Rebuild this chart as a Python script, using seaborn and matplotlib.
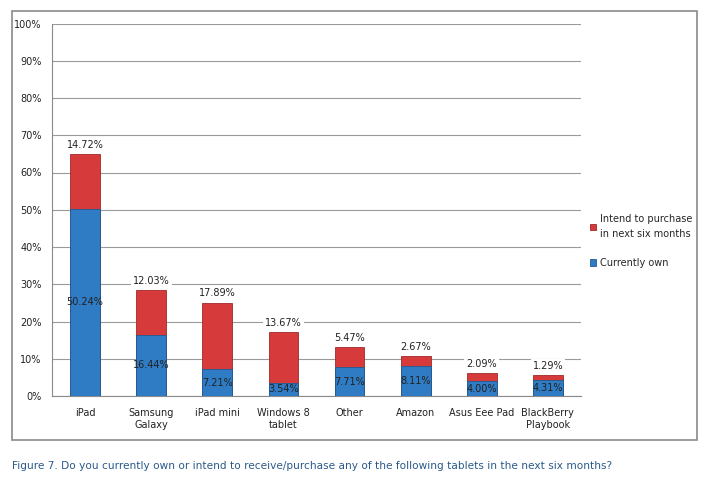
import numpy as np
import pandas as pd
import matplotlib
matplotlib.use("Agg")
import matplotlib.pyplot as plt
import seaborn as sns
from matplotlib.patches import Patch, Rectangle

# ==========================================================
# DATA
# ==========================================================

tablets = ["iPad", "Samsung\nGalaxy", "iPad mini", "Windows 8\ntablet",
           "Other", "Amazon", "Asus Eee Pad", "BlackBerry\nPlaybook"]
currently_own = [50.24, 16.44, 7.21, 3.54, 7.71, 8.11, 4.00, 4.31]
intend_purchase = [14.72, 12.03, 17.89, 13.67, 5.47, 2.67, 2.09, 1.29]

caption = ("Figure 7. Do you currently own or intend to receive/purchase any "
           "of the following tablets in the next six months?")

df = pd.DataFrame({"tablet": tablets, "own": currently_own, "intend": intend_purchase})
df["total"] = df["own"] + df["intend"]

BLUE = "#2F7BC4"
RED = "#D63A3A"

sns.set_style("white")
plt.rcParams["font.family"] = ["DejaVu Sans"]

# ==========================================================
# PLOT
# ==========================================================

fig = plt.figure(figsize=(7.15, 4.78), dpi=100)
ax = fig.add_axes([52 / 715, 1 - 396 / 478, (581 - 52) / 715, (396 - 23.5) / 478])

sns.barplot(data=df, x="tablet", y="total", color=RED, width=0.45,
            edgecolor="#9E2A2A", linewidth=0.6, saturation=1, ax=ax, zorder=3)
sns.barplot(data=df, x="tablet", y="own", color=BLUE, width=0.45,
            edgecolor="#1F5A93", linewidth=0.6, saturation=1, ax=ax, zorder=4)

for i, row in df.iterrows():
    ax.text(i, row["own"] / 2, f"{row['own']:.2f}%", ha="center", va="center",
            fontsize=7, color="#222222", zorder=6)
    ax.text(i, row["total"] + 2.5, f"{row['intend']:.2f}%", ha="center", va="center",
            fontsize=7, color="#222222", zorder=6,
            bbox=dict(facecolor="white", edgecolor="none", pad=1.5))

ax.set_ylim(0, 100)
ax.set_xlim(-0.5, len(tablets) - 0.5)
ax.set_yticks(np.arange(0, 101, 10))
ax.set_yticklabels([f"{v}%" for v in range(0, 101, 10)])
ax.yaxis.grid(True, color="#9A9A9A", linewidth=0.8, zorder=0)
ax.set_axisbelow(True)
ax.set_xlabel("")
ax.set_ylabel("")

ax.set_xticks(np.arange(-0.5, len(tablets)), minor=True)
ax.tick_params(axis="x", which="major", length=0, pad=9, labelsize=7, colors="#222222")
ax.tick_params(axis="x", which="minor", length=4, color="#8A8A8A", width=0.8, direction="out")
ax.tick_params(axis="y", length=4, color="#8A8A8A", labelsize=7, colors="#222222", direction="out")

for side in ["top", "right"]:
    ax.spines[side].set_visible(False)
for side in ["left", "bottom"]:
    ax.spines[side].set_color("#8A8A8A")
    ax.spines[side].set_linewidth(0.8)

handles = [Patch(facecolor=RED, edgecolor="#9E2A2A", linewidth=0.6),
           Patch(facecolor=BLUE, edgecolor="#1F5A93", linewidth=0.6)]
leg = fig.legend(handles, ["Intend to purchase\nin next six months", "Currently own"],
                 loc="upper left", bbox_to_anchor=(585 / 715, 1 - 209 / 478),
                 frameon=False, fontsize=7, handlelength=0.6, handleheight=0.6,
                 handletextpad=0.4, labelspacing=1.9, borderpad=0)
for t in leg.get_texts():
    t.set_linespacing(1.7)

# outer chart frame
fig.patches.append(Rectangle((12 / 715, 1 - 440 / 478), (697 - 12) / 715, (440 - 11) / 478,
                             transform=fig.transFigure, fill=False,
                             edgecolor="#8A8A8A", linewidth=1.2))

fig.text(12 / 715, 1 - 466 / 478, caption, ha="left", va="center",
         fontsize=7.6, color="#2A5A8A")

plt.savefig("out.png", dpi=100)
plt.close()
